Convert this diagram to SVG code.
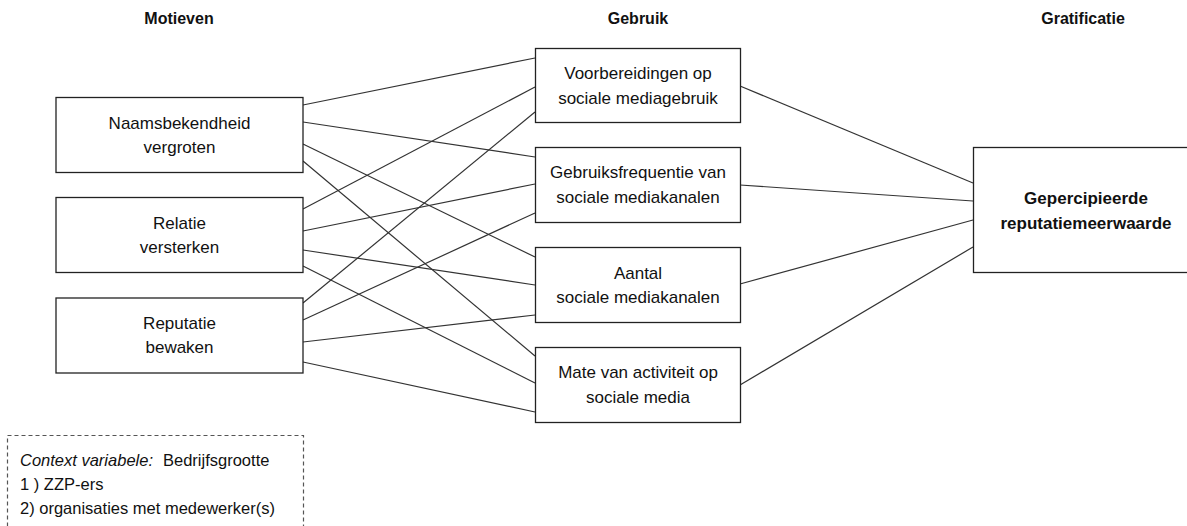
<svg xmlns="http://www.w3.org/2000/svg" width="1187" height="526" viewBox="0 0 1187 526">
<style>
.box{fill:#fff;stroke:#222;stroke-width:1.3}
.t{font-family:"Liberation Sans",Arial,sans-serif;font-size:17px;fill:#111;text-anchor:middle}
.h{font-family:"Liberation Sans",Arial,sans-serif;font-size:16px;font-weight:bold;fill:#111;text-anchor:middle}
.b{font-family:"Liberation Sans",Arial,sans-serif;font-size:17px;font-weight:bold;fill:#111;text-anchor:middle}
.l{font-family:"Liberation Sans",Arial,sans-serif;font-size:16.5px;fill:#111}
.c line{stroke:#333;stroke-width:1.2}
</style>
<rect width="1187" height="526" fill="#fff"/>
<g id="headers">
<text class="h" x="179" y="24">Motieven</text>
<text class="h" x="638" y="24">Gebruik</text>
<text class="h" x="1083" y="24">Gratificatie</text>
</g>
<g id="connectors" class="c">
<line x1="303" y1="105" x2="535" y2="58"/>
<line x1="303" y1="122" x2="535" y2="157"/>
<line x1="303" y1="144" x2="535" y2="257"/>
<line x1="303" y1="161" x2="535" y2="356"/>
<line x1="303" y1="209" x2="535" y2="87"/>
<line x1="303" y1="231" x2="535" y2="184"/>
<line x1="303" y1="250" x2="535" y2="285"/>
<line x1="303" y1="266" x2="535" y2="383"/>
<line x1="303" y1="303" x2="535" y2="112"/>
<line x1="303" y1="320" x2="535" y2="213"/>
<line x1="303" y1="342" x2="535" y2="315"/>
<line x1="303" y1="362" x2="535" y2="412"/>
<line x1="740" y1="86" x2="973" y2="183"/>
<line x1="740" y1="185" x2="973" y2="201"/>
<line x1="740" y1="284" x2="973" y2="220"/>
<line x1="740" y1="385" x2="973" y2="247"/>
</g>
<g id="n-naamsbekendheid">
<rect class="box" x="56" y="97.5" width="247" height="75"/>
<text class="t" x="179.5" y="128.5">Naamsbekendheid</text>
<text class="t" x="179.5" y="153">vergroten</text>
</g>
<g id="n-relatie">
<rect class="box" x="56" y="197.5" width="247" height="75"/>
<text class="t" x="179.5" y="228.5">Relatie</text>
<text class="t" x="179.5" y="253">versterken</text>
</g>
<g id="n-reputatie">
<rect class="box" x="56" y="298" width="247" height="75"/>
<text class="t" x="179.5" y="328.5">Reputatie</text>
<text class="t" x="179.5" y="353">bewaken</text>
</g>
<g id="n-voorbereidingen">
<rect class="box" x="535.5" y="48.5" width="205" height="74"/>
<text class="t" x="638" y="78.5">Voorbereidingen op</text>
<text class="t" x="638" y="103.5">sociale mediagebruik</text>
</g>
<g id="n-gebruiksfrequentie">
<rect class="box" x="535.5" y="147.5" width="205" height="75"/>
<text class="t" x="638" y="178">Gebruiksfrequentie van</text>
<text class="t" x="638" y="203">sociale mediakanalen</text>
</g>
<g id="n-aantal">
<rect class="box" x="535.5" y="247.5" width="205" height="75"/>
<text class="t" x="638" y="278.5">Aantal</text>
<text class="t" x="638" y="303">sociale mediakanalen</text>
</g>
<g id="n-mate">
<rect class="box" x="535.5" y="347.5" width="205" height="75"/>
<text class="t" x="638" y="378">Mate van activiteit op</text>
<text class="t" x="638" y="403">sociale media</text>
</g>
<g id="n-gepercipieerde">
<rect class="box" x="973.5" y="147.5" width="226" height="125"/>
<text class="b" x="1086" y="204">Gepercipieerde</text>
<text class="b" x="1086" y="228.5">reputatiemeerwaarde</text>
</g>
<g id="n-context">
<rect x="7.5" y="435.5" width="296" height="110" fill="none" stroke="#555" stroke-width="1.2" stroke-dasharray="4,3"/>
<text class="l" x="20" y="466"><tspan font-style="italic">Context variabele:</tspan><tspan x="163">Bedrijfsgrootte</tspan></text>
<text class="l" x="20" y="490">1 ) ZZP-ers</text>
<text class="l" x="20" y="514">2) organisaties met medewerker(s)</text>
</g>
</svg>
